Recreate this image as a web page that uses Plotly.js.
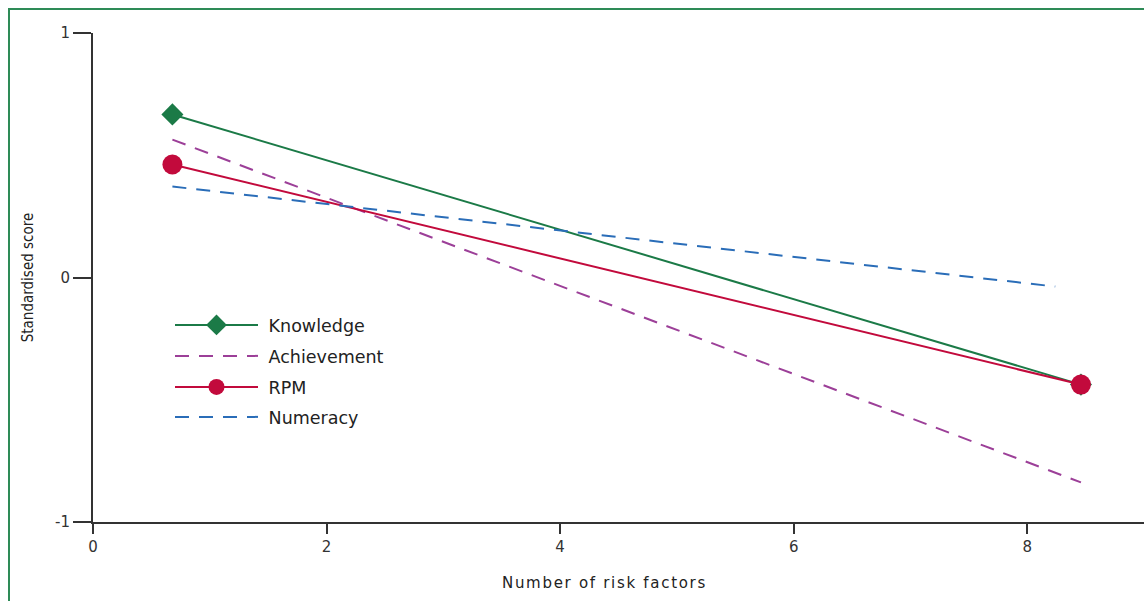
<!DOCTYPE html>
<html><head><meta charset="utf-8">
<script src="https://cdn.plot.ly/plotly-3.0.1.min.js"></script>
<style>
body{margin:0;padding:0;background:#fff;overflow:hidden;}
#frame{position:absolute;left:8px;top:8px;width:1300px;height:800px;border:2px solid #2e8b57;box-sizing:border-box;}
#chart{position:absolute;left:0;top:0;width:1144px;height:601px;}
#chart .xtitle{letter-spacing:1.7px;transform:translateX(-14px);}
</style></head>
<body>
<div id="frame"></div>
<div id="chart"></div>
<script>
const seriesNames = ["Knowledge","Achievement","RPM","Numeracy"];
const knowledgeX = [0.68, 8.46];
const knowledgeY = [0.667, -0.438];
const achievementX = [0.68, 8.46];
const achievementY = [0.564, -0.838];
const rpmX = [0.68, 8.46];
const rpmY = [0.462, -0.438];
const numeracyX = [0.68, 8.24];
const numeracyY = [0.372, -0.037];
const xTicks = [0, 2, 4, 6, 8];
const yTicks = [-1, 0, 1];

const FONT = "'DejaVu Sans', sans-serif";
const NARROW = "'DejaVu Sans Condensed', 'DejaVu Sans', sans-serif";
const PAD = "\u00a0";

const traces = [
  {x: knowledgeX, y: knowledgeY, name: PAD + seriesNames[0], mode: 'lines+markers', legend: 'legend',
   line: {color: '#1b7a47', width: 2},
   marker: {symbol: 'diamond', size: 17, color: '#1b7a47'}},
  {x: achievementX, y: achievementY, name: PAD + seriesNames[1], mode: 'lines', legend: 'legend2',
   line: {color: '#9c3f98', width: 2, dash: '14px,10px'}},
  {x: rpmX, y: rpmY, name: PAD + seriesNames[2], mode: 'lines+markers', legend: 'legend3',
   line: {color: '#c20a3c', width: 2},
   marker: {symbol: 'circle', size: 20, color: '#c20a3c'}},
  {x: numeracyX, y: numeracyY, name: PAD + seriesNames[3], mode: 'lines', legend: 'legend4',
   line: {color: '#2a6db8', width: 2, dash: '14px,10px'}}
];

function leg(py) {
  return {x: (170 - 93) / 1051, y: (522 - py) / 489, xanchor: 'left', yanchor: 'middle',
    itemwidth: 83, font: {family: FONT, size: 17.5, color: '#222'},
    bgcolor: 'rgba(0,0,0,0)', borderwidth: 0, itemsizing: 'trace'};
}

const layout = {
  width: 1144, height: 601,
  paper_bgcolor: 'rgba(0,0,0,0)', plot_bgcolor: 'rgba(0,0,0,0)',
  margin: {l: 93, r: 0, t: 33, b: 79},
  font: {family: FONT, size: 15, color: '#333'},
  showlegend: true,
  legend: leg(325), legend2: leg(356), legend3: leg(387), legend4: leg(417),
  xaxis: {range: [0, 9], tickvals: xTicks, ticktext: xTicks.map(String),
    showgrid: false, zeroline: false, showline: true, linecolor: '#333', linewidth: 2,
    ticks: 'outside', ticklen: 10, tickwidth: 2, tickcolor: '#333',
    tickfont: {family: FONT, size: 15, color: '#333'},
    title: {text: 'Number of risk factors', font: {family: FONT, size: 15, color: '#222'}, standoff: 22}},
  yaxis: {range: [-1, 1], tickvals: yTicks, ticktext: yTicks.map(String),
    showgrid: false, zeroline: false, showline: true, linecolor: '#333', linewidth: 2,
    ticks: 'outside', ticklen: 18, tickwidth: 2, tickcolor: '#333',
    tickfont: {family: FONT, size: 15, color: '#333'},
    title: {text: 'Standardised score', font: {family: NARROW, size: 15, color: '#222'}, standoff: 18}}
};

Plotly.newPlot('chart', traces, layout, {displayModeBar: false, staticPlot: true});
</script>
</body></html>
